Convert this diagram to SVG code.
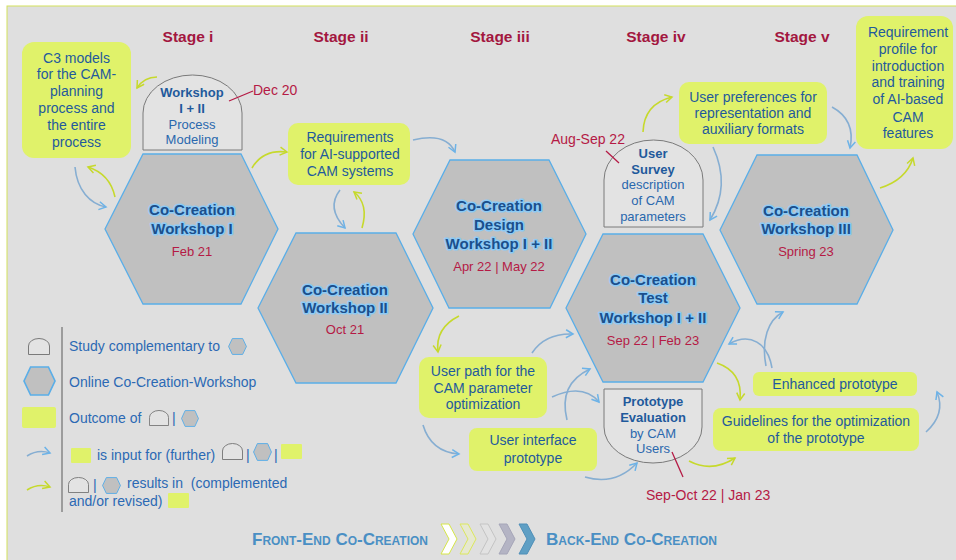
<svg xmlns="http://www.w3.org/2000/svg" xmlns:xlink="http://www.w3.org/1999/xlink" width="956" height="560" viewBox="0 0 956 560">
<style>
text{font-family:"Liberation Sans",Arial,sans-serif}
.stage{font-size:15.5px;font-weight:bold;fill:#a3173f;text-anchor:middle}
.hex{fill:#c0c0c0;stroke:#5aaee8;stroke-width:1.3}
.ht{font-size:15px;font-weight:bold;fill:#1b4f8c;stroke:#8ccaf4;stroke-width:3;stroke-linejoin:round;paint-order:stroke;text-anchor:middle}
.date{font-size:13px;fill:#b51a45;text-anchor:middle}
.dateL{font-size:14px;fill:#b51a45}
.box{fill:#e0f26a}
.bt{font-size:14px;fill:#1f5a9c;text-anchor:middle}
.dome{fill:#e3e3e3;stroke:#7a7a7a;stroke-width:1}
.db{font-size:13px;font-weight:bold;fill:#1f5a9c;text-anchor:middle}
.dr{font-size:13px;fill:#2a68ae;text-anchor:middle}
.lg{font-size:14px;fill:#2b69b4}
.cg{fill:none;stroke:#86aed2;stroke-width:1.6;marker-end:url(#ab)}
.cy{fill:none;stroke:#c6d92c;stroke-width:1.6;marker-end:url(#ay)}
.tick{stroke:#b51a45;stroke-width:1.3}
.ban{font-size:17px;font-weight:bold;fill:#4a8fc4;font-variant:small-caps}
</style>
<defs>
<marker id="ab" viewBox="0 0 10 10" refX="8" refY="5" markerWidth="10" markerHeight="10" markerUnits="userSpaceOnUse" orient="auto"><path d="M1,1 L8,5 L1,9" fill="none" stroke="#6cb3e8" stroke-width="1.5"/></marker>
<marker id="ay" viewBox="0 0 10 10" refX="8" refY="5" markerWidth="10" markerHeight="10" markerUnits="userSpaceOnUse" orient="auto"><path d="M1,1 L8,5 L1,9" fill="none" stroke="#c6d92c" stroke-width="1.5"/></marker>
<symbol id="sdome" viewBox="0 0 22 17" preserveAspectRatio="none"><path d="M0.5,16.5 L0.5,8 A10.5,7.5 0 0 1 21.5,8 L21.5,16.5 Z" fill="#e3e3e3" stroke="#7a7a7a" stroke-width="1"/></symbol>
<symbol id="shex" viewBox="0 0 20 18" preserveAspectRatio="none"><polygon points="0.6,9 4.6,0.6 15.4,0.6 19.4,9 15.4,17.4 4.6,17.4" fill="#c0c0c0" stroke="#5aaee8" stroke-width="1"/></symbol>
</defs>

<rect x="0" y="0" width="956" height="560" fill="#ffffff"/>
<rect x="7" y="6" width="950" height="556" fill="#dfdfdf" stroke="#d4e25c" stroke-width="1"/>

<g id="stages">
<text class="stage" x="188" y="42">Stage i</text>
<text class="stage" x="341" y="42">Stage ii</text>
<text class="stage" x="500" y="42">Stage iii</text>
<text class="stage" x="656" y="42">Stage iv</text>
<text class="stage" x="802" y="42">Stage v</text>
</g>

<g id="ws1">
<polygon class="hex" points="105,229 143,154 241,154 278,229 241,304 143,304"/>
<text class="ht" x="192" y="215">Co-Creation</text>
<text class="ht" x="192" y="234">Workshop I</text>
<text class="date" x="192" y="256">Feb 21</text>
</g>
<g id="ws2">
<polygon class="hex" points="258,308 296,233 396,233 433,308 396,383 296,383"/>
<text class="ht" x="345" y="295">Co-Creation</text>
<text class="ht" x="345" y="313">Workshop II</text>
<text class="date" x="345" y="334">Oct 21</text>
</g>
<g id="ws3">
<polygon class="hex" points="413,234 450,160 549,160 586,234 550,308 449,308"/>
<text class="ht" x="499" y="211">Co-Creation</text>
<text class="ht" x="499" y="230">Design</text>
<text class="ht" x="499" y="249">Workshop I + II</text>
<text class="date" x="499" y="271">Apr 22 | May 22</text>
</g>
<g id="ws4">
<polygon class="hex" points="566,308 603,234 703,234 740,308 703,382 603,382"/>
<text class="ht" x="653" y="285">Co-Creation</text>
<text class="ht" x="653" y="303">Test</text>
<text class="ht" x="653" y="323">Workshop I + II</text>
<text class="date" x="653" y="345">Sep 22 | Feb 23</text>
</g>
<g id="ws5">
<polygon class="hex" points="720,230 757,155 857,155 893,230 857,304 757,304"/>
<text class="ht" x="806" y="216">Co-Creation</text>
<text class="ht" x="806" y="234">Workshop III</text>
<text class="date" x="806" y="256">Spring 23</text>
</g>

<g id="study1">
<path class="dome" d="M143,150 L143,113 A49.5,38 0 0 1 242,113 L242,150 Z"/>
<text class="db" x="192" y="97">Workshop</text>
<text class="db" x="192" y="113">I + II</text>
<text class="dr" x="192" y="129">Process</text>
<text class="dr" x="192" y="144">Modeling</text>
<line class="tick" x1="229" y1="101" x2="253" y2="91"/>
<text class="dateL" x="253" y="95">Dec 20</text>
</g>
<g id="study2">
<path class="dome" d="M604,227 L604,180 A49.5,40 0 0 1 703,180 L703,227 Z"/>
<text class="db" x="653" y="158">User</text>
<text class="db" x="653" y="174">Survey</text>
<text class="dr" x="653" y="189">description</text>
<text class="dr" x="653" y="205">of CAM</text>
<text class="dr" x="653" y="221">parameters</text>
<line class="tick" x1="606" y1="151" x2="619" y2="163"/>
<text class="dateL" x="551" y="144">Aug-Sep 22</text>
</g>
<g id="study3">
<path class="dome" d="M604,389 L702,389 L702,427 A49,36 0 0 1 604,427 Z"/>
<text class="db" x="653" y="406">Prototype</text>
<text class="db" x="653" y="422">Evaluation</text>
<text class="dr" x="653" y="438">by CAM</text>
<text class="dr" x="653" y="453">Users</text>
<line class="tick" x1="672" y1="452" x2="683" y2="477"/>
<text class="dateL" x="646" y="500">Sep-Oct 22 | Jan 23</text>
</g>

<g id="out-c3">
<rect class="box" x="22" y="42" width="109" height="116" rx="12"/>
<text class="bt" x="76.5" y="63">C3 models</text>
<text class="bt" x="76.5" y="79">for the CAM-</text>
<text class="bt" x="76.5" y="96">planning</text>
<text class="bt" x="76.5" y="113">process and</text>
<text class="bt" x="76.5" y="130">the entire</text>
<text class="bt" x="76.5" y="147">process</text>
</g>
<g id="out-req">
<rect class="box" x="288" y="123" width="122" height="62" rx="10"/>
<text class="bt" x="350" y="142">Requirements</text>
<text class="bt" x="350" y="159">for AI-supported</text>
<text class="bt" x="350" y="176">CAM systems</text>
</g>
<g id="out-pref">
<rect class="box" x="679" y="82" width="148" height="62" rx="10"/>
<text class="bt" x="753" y="102">User preferences for</text>
<text class="bt" x="753" y="118">representation and</text>
<text class="bt" x="753" y="134">auxiliary formats</text>
</g>
<g id="out-profile">
<rect class="box" x="856" y="16" width="97" height="133" rx="12"/>
<text class="bt" x="908" y="37">Requirement</text>
<text class="bt" x="908" y="54">profile for</text>
<text class="bt" x="908" y="71">introduction</text>
<text class="bt" x="908" y="87">and training</text>
<text class="bt" x="908" y="104">of AI-based</text>
<text class="bt" x="908" y="122">CAM</text>
<text class="bt" x="908" y="138">features</text>
</g>
<g id="out-path">
<rect class="box" x="419" y="357" width="128" height="61" rx="10"/>
<text class="bt" x="483" y="376">User path for the</text>
<text class="bt" x="483" y="393">CAM parameter</text>
<text class="bt" x="483" y="409">optimization</text>
</g>
<g id="out-ui">
<rect class="box" x="469" y="428" width="128" height="43" rx="8"/>
<text class="bt" x="533" y="445">User interface</text>
<text class="bt" x="533" y="463">prototype</text>
</g>
<g id="out-enh">
<rect class="box" x="753" y="372" width="164" height="24" rx="6"/>
<text class="bt" x="835" y="389">Enhanced prototype</text>
</g>
<g id="out-guide">
<rect class="box" x="713" y="408" width="206" height="43" rx="8"/>
<text class="bt" x="816" y="426">Guidelines for the optimization</text>
<text class="bt" x="816" y="443">of the prototype</text>
</g>

<g id="connectors">
<path class="cy" d="M157,77 Q144,77 137,88"/>
<path class="cg" d="M75,167 C77,190 90,204 106,207"/>
<path class="cy" d="M115,197 Q110,174 88,167"/>
<path class="cy" d="M252,168 Q263,149 287,152"/>
<path class="cg" d="M340,190 Q326,208 345,228"/>
<path class="cy" d="M362,228 Q369,204 354,192"/>
<path class="cg" d="M413,140 Q446,132 455,152"/>
<path class="cy" d="M459,316 Q435,328 438,352"/>
<path class="cg" d="M532,353 Q545,333 573,334"/>
<path class="cg" d="M552,397 Q583,383 599,402"/>
<path class="cg" d="M567,420 Q558,384 590,369"/>
<path class="cg" d="M423,425 Q431,452 459,454"/>
<path class="cg" d="M585,477 Q615,486 637,463"/>
<path class="cy" d="M689,461 Q712,473 735,458"/>
<path class="cy" d="M717,363 Q743,372 740,400"/>
<path class="cg" d="M772,368 C768,343 750,332 729,344"/>
<path class="cg" d="M766,366 C761,340 768,320 783,312"/>
<path class="cg" d="M926,432 Q946,414 937,392"/>
<path class="cy" d="M880,188 Q906,180 913,158"/>
<path class="cg" d="M832,107 Q856,120 850,148"/>
<path class="cy" d="M643,132 Q644,104 672,97"/>
<path class="cg" d="M713,147 Q731,186 710,220"/>
</g>

<g id="legend">
<line x1="62" y1="327" x2="62" y2="512" stroke="#707070" stroke-width="1.2"/>
<use href="#sdome" x="28" y="338" width="22" height="17"/>
<use href="#shex" x="23" y="366" width="33" height="30"/>
<rect class="box" x="22" y="407" width="34" height="21" rx="2"/>
<path class="cg" d="M27,456 Q38,449 50,453"/>
<path class="cy" d="M27,490 Q38,483 50,487"/>
<text class="lg" x="69" y="351">Study complementary to</text>
<use href="#shex" x="228" y="338" width="19" height="17"/>
<text class="lg" x="69" y="387">Online Co-Creation-Workshop</text>
<text class="lg" x="69" y="423">Outcome of</text>
<use href="#sdome" x="149" y="410" width="20" height="16"/>
<text class="lg" x="172" y="423">|</text>
<use href="#shex" x="181" y="410" width="18" height="17"/>
<rect class="box" x="71" y="448" width="20" height="15" rx="1"/>
<text class="lg" x="97" y="460">is input for (further)</text>
<use href="#sdome" x="222" y="443" width="21" height="17"/>
<text class="lg" x="246" y="460">|</text>
<use href="#shex" x="253" y="443" width="19" height="18"/>
<text class="lg" x="274" y="460">|</text>
<rect class="box" x="281" y="444" width="21" height="15" rx="1"/>
<use href="#sdome" x="68" y="477" width="21" height="16"/>
<text class="lg" x="93" y="490">|</text>
<use href="#shex" x="102" y="477" width="19" height="17"/>
<text class="lg" x="127" y="488" style="white-space:pre">results in  (complemented</text>
<text class="lg" x="69" y="506">and/or revised)</text>
<rect class="box" x="168" y="493" width="21" height="15" rx="1"/>
</g>

<g id="banner">
<text class="ban" x="252" y="545" textLength="176" lengthAdjust="spacingAndGlyphs">Front-End Co-Creation</text>
<path d="M441,524 L449,524 L457,539 L449,554 L441,554 L449,539 Z" fill="#ffffff" stroke="#d6e648" stroke-width="1"/>
<path d="M460,524 L468,524 L476,539 L468,554 L460,554 L468,539 Z" fill="#e6e8d0" stroke="#dce85c" stroke-width="1"/>
<path d="M480,524 L488,524 L496,539 L488,554 L480,554 L488,539 Z" fill="#e2e2e2" stroke="#c4c4c4" stroke-width="1"/>
<path d="M499,524 L507,524 L515,539 L507,554 L499,554 L507,539 Z" fill="#b4b4c4" stroke="#a6a6b8" stroke-width="1"/>
<path d="M519,524 L527,524 L535,539 L527,554 L519,554 L527,539 Z" fill="#5f9fc4" stroke="#4f8fb8" stroke-width="1"/>
<text class="ban" x="546" y="545" textLength="171" lengthAdjust="spacingAndGlyphs">Back-End Co-Creation</text>
</g>
</svg>
